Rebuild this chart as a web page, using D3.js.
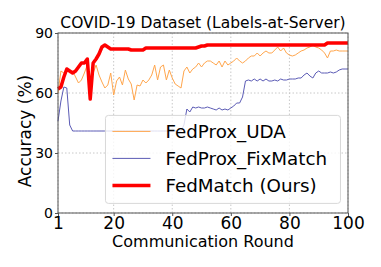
<!DOCTYPE html>
<html>
<head>
<meta charset="utf-8">
<script src="https://cdn.jsdelivr.net/npm/d3@7"></script>
<style>
  body { margin: 0; background: #fff; }
  text { font-family: "DejaVu Sans", sans-serif; fill: #000; }
</style>
</head>
<body>
<div id="chart"></div>
<script>
// values, one per communication round (1..100)
const fedMatch = [62, 63, 68, 72, 71, 70, 71, 73, 75, 75,
  77, 57, 75, 77, 79.5, 83, 84, 83, 82, 82,
  82, 82, 82, 82, 82, 81.5, 81.5, 81.5, 81.5, 81.5,
  82.5, 82.5, 82.5, 82.5, 82.5, 82.5, 82.5, 82.5, 82.5, 82.5,
  82.5, 82.5, 82.5, 82.5, 82.5, 82.5, 82.5, 82.5, 83, 83.5,
  83.5, 84, 84, 84, 84, 84, 84, 84, 84, 84,
  84, 84, 84, 84, 84, 84, 84, 84, 84, 84,
  84, 84, 84, 84, 84, 84, 84, 84, 84, 84,
  84, 84, 84, 84, 84, 84, 84, 84, 84, 84,
  84, 84, 85, 85, 85, 85, 85, 85, 85, 85];

const fedProxUDA = [60, 71, 70, 71.5, 70, 71, 68, 65, 66.5, 70,
  74, 66, 70, 74, 69, 65.5, 62.5, 64, 70, 59,
  66, 68, 64, 71.5, 67, 64.5, 56.5, 64, 63.5, 66.5,
  65, 66.5, 69, 74, 66.5, 73, 74, 66.5, 71.5, 67.5,
  64.5, 63.5, 62.5, 71, 73, 70, 72, 73, 75, 73,
  75, 76, 76, 75, 74, 76, 73, 76, 74, 75,
  76, 77.5, 76, 75, 76, 77.5, 78.5, 78.5, 80, 78.5,
  80, 81, 80, 80, 81.5, 83, 81, 82.5, 80, 79,
  78.5, 79, 80, 81, 81.5, 82.5, 83, 84, 83, 82.5,
  81.5, 80, 77.5, 81, 81, 81.5, 81, 81, 81, 81];

const fedProxFixMatch = [46, 56, 63, 62.5, 44, 41, 41, 41, 41, 41,
  41, 41, 41, 41, 41, 41, 41, 41, 41, 41,
  41, 41, 41, 41, 41, 41, 41, 41, 41, 41,
  41, 41, 41, 41, 41, 41, 41, 41, 41, 41,
  41, 41, 41, 44, 52, 50.5, 53, 52.5, 53, 52.5,
  52.5, 53, 52.5, 52, 51.5, 52.5, 51.5, 52, 51.5, 52.5,
  53.5, 55, 55, 58, 66, 66.5, 66, 67, 66, 67,
  66, 67, 66, 66, 66.5, 66, 67, 66.5, 66.5, 67,
  67, 67, 67.5, 67.5, 69, 70, 68.5, 67.5, 70, 71,
  70, 70, 70, 70.5, 70, 70.5, 71.5, 72, 72, 72];

const xTicks = [1, 20, 40, 60, 80, 100];
const yTicks = [0, 30, 60, 90];

const series = [
  {name: 'FedProx_UDA', values: fedProxUDA, color: '#ffa64d', width: 1},
  {name: 'FedProx_FixMatch', values: fedProxFixMatch, color: '#5b5bb5', width: 1},
  {name: 'FedMatch (Ours)', values: fedMatch, color: '#ff0000', width: 3.5}
];

const W = 381, H = 267;
const margin = {top: 33, right: 33, bottom: 54, left: 58};
const width = W - margin.left - margin.right;
const height = H - margin.top - margin.bottom;

const svg = d3.select('#chart')
  .append('svg')
  .attr('width', W)
  .attr('height', H);

const g = svg.append('g')
  .attr('transform', 'translate(' + margin.left + ',' + margin.top + ')');

const x = d3.scaleLinear().domain([1, 100]).range([0, width]);
const y = d3.scaleLinear().domain([0, 90]).range([height, 0]);

// dotted grid
g.append('g')
  .selectAll('line')
  .data(xTicks)
  .join('line')
  .attr('x1', d => x(d)).attr('x2', d => x(d))
  .attr('y1', 0).attr('y2', height)
  .attr('stroke', '#c8c8c8')
  .attr('stroke-dasharray', '1.5,2');
g.append('g')
  .selectAll('line')
  .data(yTicks)
  .join('line')
  .attr('x1', 0).attr('x2', width)
  .attr('y1', d => y(d)).attr('y2', d => y(d))
  .attr('stroke', '#c8c8c8')
  .attr('stroke-dasharray', '1.5,2');

const line = d3.line()
  .x((d, i) => x(i + 1))
  .y(d => y(d));

series.forEach(s => {
  g.append('path')
    .datum(s.values)
    .attr('fill', 'none')
    .attr('stroke', s.color)
    .attr('stroke-width', s.width)
    .attr('stroke-linejoin', 'round')
    .attr('d', line);
});

// frame
g.append('rect')
  .attr('width', width)
  .attr('height', height)
  .attr('fill', 'none')
  .attr('stroke', '#555')
  .attr('stroke-width', 1);

const xAxis = g.append('g')
  .attr('transform', 'translate(0,' + height + ')')
  .call(d3.axisBottom(x).tickValues(xTicks).tickSize(3).tickPadding(1));
xAxis.select('.domain').remove();
xAxis.selectAll('line').attr('stroke', '#555');
xAxis.selectAll('text').style('font-size', '17px');

const yAxis = g.append('g')
  .call(d3.axisLeft(y).tickValues(yTicks).tickSize(3).tickPadding(2));
yAxis.select('.domain').remove();
yAxis.selectAll('line').attr('stroke', '#555');
yAxis.selectAll('text').style('font-size', '14px');

// title and axis labels
svg.append('text')
  .attr('x', margin.left + width / 2)
  .attr('y', 28)
  .attr('text-anchor', 'middle')
  .style('font-size', '15.5px')
  .text('COVID-19 Dataset (Labels-at-Server)');

svg.append('text')
  .attr('x', margin.left + width / 2)
  .attr('y', 247)
  .attr('text-anchor', 'middle')
  .style('font-size', '16px')
  .text('Communication Round');

svg.append('text')
  .attr('transform', 'translate(31,131) rotate(-90)')
  .attr('text-anchor', 'middle')
  .style('font-size', '17px')
  .text('Accuracy (%)');

// legend
const legend = g.append('g')
  .attr('transform', 'translate(' + (x(17.2)) + ',' + (y(48.8)) + ')');
legend.append('rect')
  .attr('width', 235)
  .attr('height', 88)
  .attr('rx', 3)
  .attr('fill', '#fff')
  .attr('fill-opacity', 0.8)
  .attr('stroke', '#d8d8d8');
series.forEach((s, i) => {
  const row = legend.append('g')
    .attr('transform', 'translate(0,' + (16 + i * 27) + ')');
  row.append('line')
    .attr('x1', 7).attr('x2', 45)
    .attr('stroke', s.color)
    .attr('stroke-width', s.width);
  row.append('text')
    .attr('x', 60)
    .attr('dy', '0.35em')
    .style('font-size', '18.3px')
    .text(s.name);
});
</script>
</body>
</html>
